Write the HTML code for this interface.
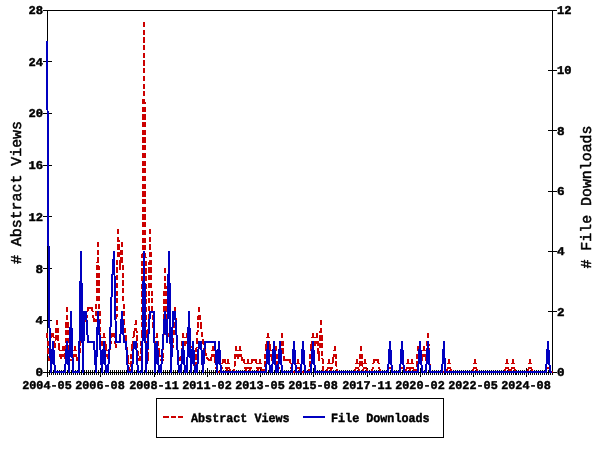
<!DOCTYPE html>
<html><head><meta charset="utf-8"><title>Abstract Views and File Downloads</title>
<style>html,body{margin:0;padding:0;background:#fff}body{width:600px;height:450px;overflow:hidden}</style></head>
<body>
<svg width="600" height="450" viewBox="0 0 600 450" style="display:block">
<rect x="0" y="0" width="600" height="450" fill="#fff"/>
<g stroke="#000" stroke-width="1" shape-rendering="crispEdges" fill="none">
<path d="M47.5 10.5H552.5V372.5H47.5Z"/>
<path d="M43 372.5H52"/>
<path d="M43 320.5H52"/>
<path d="M43 268.5H52"/>
<path d="M43 216.5H52"/>
<path d="M43 165.5H52"/>
<path d="M43 113.5H52"/>
<path d="M43 61.5H52"/>
<path d="M43 10.5H52"/>
<path d="M548 372.5H557"/>
<path d="M548 311.5H557"/>
<path d="M548 251.5H557"/>
<path d="M548 191.5H557"/>
<path d="M548 130.5H557"/>
<path d="M548 70.5H557"/>
<path d="M548 10.5H557"/>
<path d="M47.5 368V377M49.5 370V375M51.5 370V375M53.5 370V375M55.5 370V375M57.5 370V375M59.5 370V375M61.5 370V375M63.5 370V375M65.5 370V375M67.5 370V375M69.5 370V375M71.5 370V375M73.5 370V375M75.5 370V375M77.5 370V375M79.5 370V375M81.5 370V375M83.5 370V375M84.5 370V375M86.5 370V375M88.5 370V375M90.5 370V375M92.5 370V375M94.5 370V375M96.5 370V375M98.5 370V375M100.5 368V377M102.5 370V375M104.5 370V375M106.5 370V375M108.5 370V375M110.5 370V375M112.5 370V375M114.5 370V375M116.5 370V375M118.5 370V375M120.5 370V375M122.5 370V375M124.5 370V375M126.5 370V375M128.5 370V375M130.5 370V375M132.5 370V375M134.5 370V375M136.5 370V375M138.5 370V375M140.5 370V375M142.5 370V375M144.5 370V375M146.5 370V375M148.5 370V375M150.5 370V375M152.5 370V375M154.5 368V377M155.5 370V375M157.5 370V375M159.5 370V375M161.5 370V375M163.5 370V375M165.5 370V375M167.5 370V375M169.5 370V375M171.5 370V375M173.5 370V375M175.5 370V375M177.5 370V375M179.5 370V375M181.5 370V375M183.5 370V375M185.5 370V375M187.5 370V375M189.5 370V375M191.5 370V375M193.5 370V375M195.5 370V375M197.5 370V375M199.5 370V375M201.5 370V375M203.5 370V375M205.5 370V375M207.5 368V377M209.5 370V375M211.5 370V375M213.5 370V375M215.5 370V375M217.5 370V375M219.5 370V375M221.5 370V375M223.5 370V375M225.5 370V375M227.5 370V375M228.5 370V375M230.5 370V375M232.5 370V375M234.5 370V375M236.5 370V375M238.5 370V375M240.5 370V375M242.5 370V375M244.5 370V375M246.5 370V375M248.5 370V375M250.5 370V375M252.5 370V375M254.5 370V375M256.5 370V375M258.5 370V375M260.5 368V377M262.5 370V375M264.5 370V375M266.5 370V375M268.5 370V375M270.5 370V375M272.5 370V375M274.5 370V375M276.5 370V375M278.5 370V375M280.5 370V375M282.5 370V375M284.5 370V375M286.5 370V375M288.5 370V375M290.5 370V375M292.5 370V375M294.5 370V375M296.5 370V375M298.5 370V375M300.5 370V375M301.5 370V375M303.5 370V375M305.5 370V375M307.5 370V375M309.5 370V375M311.5 370V375M313.5 368V377M315.5 370V375M317.5 370V375M319.5 370V375M321.5 370V375M323.5 370V375M325.5 370V375M327.5 370V375M329.5 370V375M331.5 370V375M333.5 370V375M335.5 370V375M337.5 370V375M339.5 370V375M341.5 370V375M343.5 370V375M345.5 370V375M347.5 370V375M349.5 370V375M351.5 370V375M353.5 370V375M355.5 370V375M357.5 370V375M359.5 370V375M361.5 370V375M363.5 370V375M365.5 370V375M367.5 368V377M369.5 370V375M371.5 370V375M372.5 370V375M374.5 370V375M376.5 370V375M378.5 370V375M380.5 370V375M382.5 370V375M384.5 370V375M386.5 370V375M388.5 370V375M390.5 370V375M392.5 370V375M394.5 370V375M396.5 370V375M398.5 370V375M400.5 370V375M402.5 370V375M404.5 370V375M406.5 370V375M408.5 370V375M410.5 370V375M412.5 370V375M414.5 370V375M416.5 370V375M418.5 370V375M420.5 368V377M422.5 370V375M424.5 370V375M426.5 370V375M428.5 370V375M430.5 370V375M432.5 370V375M434.5 370V375M436.5 370V375M438.5 370V375M440.5 370V375M442.5 370V375M444.5 370V375M445.5 370V375M447.5 370V375M449.5 370V375M451.5 370V375M453.5 370V375M455.5 370V375M457.5 370V375M459.5 370V375M461.5 370V375M463.5 370V375M465.5 370V375M467.5 370V375M469.5 370V375M471.5 370V375M473.5 368V377M475.5 370V375M477.5 370V375M479.5 370V375M481.5 370V375M483.5 370V375M485.5 370V375M487.5 370V375M489.5 370V375M491.5 370V375M493.5 370V375M495.5 370V375M497.5 370V375M499.5 370V375M501.5 370V375M503.5 370V375M505.5 370V375M507.5 370V375M509.5 370V375M511.5 370V375M513.5 370V375M515.5 370V375M516.5 370V375M518.5 370V375M520.5 370V375M522.5 370V375M524.5 370V375M526.5 368V377M528.5 370V375M530.5 370V375M532.5 370V375M534.5 370V375M536.5 370V375M538.5 370V375M540.5 370V375M542.5 370V375M544.5 370V375M546.5 370V375M548.5 370V375M550.5 370V375M552.5 370V375"/>
</g>
<g fill="none" stroke-linejoin="round" shape-rendering="crispEdges">
<g stroke="#cc0000" stroke-width="2" stroke-linecap="square" stroke-dasharray="3.2 4.5"><path d="M47 334L49 360"/><path d="M51 334L49 360"/><path d="M51 334L53 334"/><path d="M53 334L55 347"/><path d="M57 321L55 347"/><path d="M57 321L59 347"/><path d="M59 347L61 360"/><path d="M63 347L61 360"/><path d="M63 347L65 360"/><path d="M67 308L65 360"/><path d="M67 308L69 360"/><path d="M69 360L71 360"/><path d="M71 360L73 360"/><path d="M75 347L73 360"/><path d="M75 347L77 360"/><path d="M77 360L79 360"/><path d="M81 334L79 360"/><path d="M81 334L83 334"/><path d="M84 321L83 334"/><path d="M84 321L86 321"/><path d="M88 308L86 321"/><path d="M88 308L90 308"/><path d="M90 308L92 308"/><path d="M92 308L94 321"/><path d="M94 321L96 321"/><path d="M98 243L96 321"/><path d="M98 243L100 334"/><path d="M100 334L102 347"/><path d="M104 334L102 347"/><path d="M104 334L106 347"/><path d="M106 347L108 360"/><path d="M110 347L108 360"/><path d="M112 334L110 347"/><path d="M112 334L114 334"/><path d="M114 334L116 347"/><path d="M118 230L116 347"/><path d="M118 230L120 269"/><path d="M122 243L120 269"/><path d="M122 243L124 321"/><path d="M124 321L126 340"/><path d="M126 340L128 360"/><path d="M128 360L130 372"/><path d="M132 347L130 372"/><path d="M134 334L132 347"/><path d="M136 321L134 334"/><path d="M136 321L138 360"/><path d="M138 360L140 360"/><path d="M142 334L140 360"/><path d="M144 23L142 334"/><path d="M144 23L146 334"/><path d="M146 334L148 360"/><path d="M150 230L148 360"/><path d="M150 230L152 308"/><path d="M152 308L154 334"/><path d="M154 334L155 347"/><path d="M157 334L155 347"/><path d="M157 334L159 353"/><path d="M159 353L161 360"/><path d="M161 360L163 360"/><path d="M165 269L163 360"/><path d="M165 269L167 334"/><path d="M167 334L169 334"/><path d="M169 334L171 347"/><path d="M171 347L173 347"/><path d="M175 308L173 347"/><path d="M175 308L177 347"/><path d="M177 347L179 360"/><path d="M179 360L181 360"/><path d="M183 334L181 360"/><path d="M183 334L185 347"/><path d="M187 334L185 347"/><path d="M187 334L189 347"/><path d="M189 347L191 347"/><path d="M191 347L193 347"/><path d="M193 347L195 372"/><path d="M197 340L195 372"/><path d="M199 308L197 340"/><path d="M199 308L201 325"/><path d="M201 325L203 341"/><path d="M203 341L205 352"/><path d="M205 352L207 358"/><path d="M207 358L209 360"/><path d="M209 360L211 360"/><path d="M213 347L211 360"/><path d="M213 347L215 360"/><path d="M215 360L217 372"/><path d="M217 372L219 372"/><path d="M219 372L221 372"/><path d="M223 360L221 372"/><path d="M223 360L225 360"/><path d="M225 360L227 372"/><path d="M228 360L227 372"/><path d="M228 360L230 372"/><path d="M230 372L232 372"/><path d="M232 372L234 372"/><path d="M236 347L234 372"/><path d="M236 347L238 360"/><path d="M240 347L238 360"/><path d="M240 347L242 360"/><path d="M242 360L244 360"/><path d="M244 360L246 372"/><path d="M248 360L246 372"/><path d="M248 360L250 372"/><path d="M252 360L250 372"/><path d="M252 360L254 360"/><path d="M254 360L256 360"/><path d="M256 360L258 372"/><path d="M260 360L258 372"/><path d="M260 360L262 372"/><path d="M262 372L264 372"/><path d="M266 347L264 372"/><path d="M268 334L266 347"/><path d="M268 334L270 347"/><path d="M270 347L272 360"/><path d="M272 360L274 360"/><path d="M276 347L274 360"/><path d="M276 347L278 372"/><path d="M280 360L278 372"/><path d="M282 334L280 360"/><path d="M282 334L284 360"/><path d="M284 360L286 360"/><path d="M286 360L288 360"/><path d="M288 360L290 360"/><path d="M290 360L292 372"/><path d="M292 372L294 372"/><path d="M294 372L296 372"/><path d="M298 360L296 372"/><path d="M298 360L300 372"/><path d="M300 372L301 372"/><path d="M301 372L303 372"/><path d="M303 372L305 372"/><path d="M305 372L307 372"/><path d="M307 372L309 372"/><path d="M311 347L309 372"/><path d="M313 334L311 347"/><path d="M313 334L315 347"/><path d="M317 334L315 347"/><path d="M317 334L319 360"/><path d="M321 321L319 360"/><path d="M321 321L323 372"/><path d="M323 372L325 372"/><path d="M325 372L327 372"/><path d="M329 360L327 372"/><path d="M329 360L331 372"/><path d="M333 360L331 372"/><path d="M335 347L333 360"/><path d="M335 347L337 372"/><path d="M337 372L339 372"/><path d="M339 372L341 372"/><path d="M341 372L343 372"/><path d="M343 372L345 372"/><path d="M345 372L347 372"/><path d="M347 372L349 372"/><path d="M349 372L351 372"/><path d="M351 372L353 372"/><path d="M353 372L355 372"/><path d="M357 360L355 372"/><path d="M357 360L359 372"/><path d="M361 347L359 372"/><path d="M361 347L363 372"/><path d="M365 360L363 372"/><path d="M365 360L367 372"/><path d="M367 372L369 372"/><path d="M369 372L371 372"/><path d="M371 372L372 372"/><path d="M374 360L372 372"/><path d="M374 360L376 360"/><path d="M376 360L378 360"/><path d="M378 360L380 372"/><path d="M380 372L382 372"/><path d="M382 372L384 372"/><path d="M384 372L386 372"/><path d="M386 372L388 372"/><path d="M390 360L388 372"/><path d="M390 360L392 372"/><path d="M392 372L394 372"/><path d="M394 372L396 372"/><path d="M396 372L398 372"/><path d="M398 372L400 372"/><path d="M402 360L400 372"/><path d="M402 360L404 372"/><path d="M404 372L406 372"/><path d="M408 360L406 372"/><path d="M408 360L410 372"/><path d="M412 360L410 372"/><path d="M412 360L414 372"/><path d="M414 372L416 372"/><path d="M418 347L416 372"/><path d="M418 347L420 360"/><path d="M420 360L422 360"/><path d="M424 347L422 360"/><path d="M424 347L426 360"/><path d="M428 334L426 360"/><path d="M428 334L430 372"/><path d="M430 372L432 372"/><path d="M432 372L434 372"/><path d="M434 372L436 372"/><path d="M436 372L438 372"/><path d="M438 372L440 372"/><path d="M440 372L442 372"/><path d="M442 372L444 372"/><path d="M444 372L445 372"/><path d="M445 372L447 372"/><path d="M449 360L447 372"/><path d="M449 360L451 372"/><path d="M451 372L453 372"/><path d="M453 372L455 372"/><path d="M455 372L457 372"/><path d="M457 372L459 372"/><path d="M459 372L461 372"/><path d="M461 372L463 372"/><path d="M463 372L465 372"/><path d="M465 372L467 372"/><path d="M467 372L469 372"/><path d="M469 372L471 372"/><path d="M471 372L473 372"/><path d="M475 360L473 372"/><path d="M475 360L477 372"/><path d="M477 372L479 372"/><path d="M479 372L481 372"/><path d="M481 372L483 372"/><path d="M483 372L485 372"/><path d="M485 372L487 372"/><path d="M487 372L489 372"/><path d="M489 372L491 372"/><path d="M491 372L493 372"/><path d="M493 372L495 372"/><path d="M495 372L497 372"/><path d="M497 372L499 372"/><path d="M499 372L501 372"/><path d="M501 372L503 372"/><path d="M503 372L505 372"/><path d="M507 360L505 372"/><path d="M507 360L509 372"/><path d="M509 372L511 372"/><path d="M513 360L511 372"/><path d="M513 360L515 372"/><path d="M515 372L516 372"/><path d="M516 372L518 372"/><path d="M518 372L520 372"/><path d="M520 372L522 372"/><path d="M522 372L524 372"/><path d="M524 372L526 372"/><path d="M526 372L528 372"/><path d="M530 360L528 372"/><path d="M530 360L532 372"/><path d="M532 372L534 372"/><path d="M534 372L536 372"/><path d="M536 372L538 372"/><path d="M538 372L540 372"/><path d="M540 372L542 372"/><path d="M542 372L544 372"/><path d="M544 372L546 372"/><path d="M548 360L546 372"/><path d="M548 360L550 372"/><path d="M550 372L552 372"/></g>
<polyline points="47,41 49,312 51,372 53,342 55,372 57,372 59,372 61,372 63,372 65,372 67,342 69,372 71,312 73,372 75,372 77,372 79,372 81,252 83,372 84,312 86,312 88,342 90,342 92,342 94,342 96,372 98,312 100,342 102,372 104,342 106,372 108,372 110,342 112,282 114,252 116,342 118,342 120,342 122,312 124,342 126,342 128,372 130,372 132,372 134,342 136,342 138,372 140,372 142,372 144,252 146,372 148,342 150,312 152,312 154,312 155,372 157,342 159,372 161,372 163,342 165,312 167,342 169,252 171,372 173,312 175,312 177,342 179,372 181,372 183,342 185,372 187,372 189,312 191,372 193,342 195,372 197,372 199,342 201,342 203,372 205,342 207,342 209,342 211,342 213,342 215,342 217,372 219,342 221,372 223,372 225,372 227,372 228,372 230,372 232,372 234,372 236,372 238,372 240,372 242,372 244,372 246,372 248,372 250,372 252,372 254,372 256,372 258,372 260,372 262,372 264,372 266,372 268,342 270,372 272,372 274,342 276,372 278,372 280,342 282,372 284,372 286,372 288,372 290,372 292,372 294,342 296,372 298,372 300,372 301,372 303,342 305,372 307,372 309,372 311,372 313,342 315,372 317,372 319,372 321,372 323,372 325,372 327,372 329,372 331,372 333,372 335,372 337,372 339,372 341,372 343,372 345,372 347,372 349,372 351,372 353,372 355,372 357,372 359,372 361,372 363,372 365,372 367,372 369,372 371,372 372,372 374,372 376,372 378,372 380,372 382,372 384,372 386,372 388,372 390,342 392,372 394,372 396,372 398,372 400,372 402,342 404,372 406,372 408,372 410,372 412,372 414,372 416,372 418,372 420,342 422,372 424,372 426,372 428,342 430,372 432,372 434,372 436,372 438,372 440,372 442,372 444,342 445,372 447,372 449,372 451,372 453,372 455,372 457,372 459,372 461,372 463,372 465,372 467,372 469,372 471,372 473,372 475,372 477,372 479,372 481,372 483,372 485,372 487,372 489,372 491,372 493,372 495,372 497,372 499,372 501,372 503,372 505,372 507,372 509,372 511,372 513,372 515,372 516,372 518,372 520,372 522,372 524,372 526,372 528,372 530,372 532,372 534,372 536,372 538,372 540,372 542,372 544,372 546,372 548,342 550,372 552,372" stroke="#0000c0" stroke-width="2"/>
</g>
<g font-family="'Liberation Mono', 'DejaVu Sans Mono', monospace" font-weight="bold" fill="#000" stroke="#000" stroke-width="0.45" stroke-linejoin="round" text-rendering="geometricPrecision">
<text x="43" y="376" font-size="11.9" text-anchor="end" textLength="7.6" lengthAdjust="spacingAndGlyphs">0</text>
<text x="43" y="324" font-size="11.9" text-anchor="end" textLength="7.6" lengthAdjust="spacingAndGlyphs">4</text>
<text x="43" y="273" font-size="11.9" text-anchor="end" textLength="7.6" lengthAdjust="spacingAndGlyphs">8</text>
<text x="43" y="221" font-size="11.9" text-anchor="end" textLength="14.6" lengthAdjust="spacingAndGlyphs">12</text>
<text x="43" y="169" font-size="11.9" text-anchor="end" textLength="14.6" lengthAdjust="spacingAndGlyphs">16</text>
<text x="43" y="117" font-size="11.9" text-anchor="end" textLength="14.6" lengthAdjust="spacingAndGlyphs">20</text>
<text x="43" y="66" font-size="11.9" text-anchor="end" textLength="14.6" lengthAdjust="spacingAndGlyphs">24</text>
<text x="43" y="14" font-size="11.9" text-anchor="end" textLength="14.6" lengthAdjust="spacingAndGlyphs">28</text>
<text x="557" y="376" font-size="11.9" text-anchor="start" textLength="7.6" lengthAdjust="spacingAndGlyphs">0</text>
<text x="557" y="316" font-size="11.9" text-anchor="start" textLength="7.6" lengthAdjust="spacingAndGlyphs">2</text>
<text x="557" y="255" font-size="11.9" text-anchor="start" textLength="7.6" lengthAdjust="spacingAndGlyphs">4</text>
<text x="557" y="195" font-size="11.9" text-anchor="start" textLength="7.6" lengthAdjust="spacingAndGlyphs">6</text>
<text x="557" y="135" font-size="11.9" text-anchor="start" textLength="7.6" lengthAdjust="spacingAndGlyphs">8</text>
<text x="557" y="74" font-size="11.9" text-anchor="start" textLength="14.6" lengthAdjust="spacingAndGlyphs">10</text>
<text x="557" y="14" font-size="11.9" text-anchor="start" textLength="14.6" lengthAdjust="spacingAndGlyphs">12</text>
<text x="47" y="389" font-size="11.9" text-anchor="middle" textLength="49.6" lengthAdjust="spacingAndGlyphs">2004-05</text>
<text x="100" y="389" font-size="11.9" text-anchor="middle" textLength="49.6" lengthAdjust="spacingAndGlyphs">2006-08</text>
<text x="154" y="389" font-size="11.9" text-anchor="middle" textLength="49.6" lengthAdjust="spacingAndGlyphs">2008-11</text>
<text x="207" y="389" font-size="11.9" text-anchor="middle" textLength="49.6" lengthAdjust="spacingAndGlyphs">2011-02</text>
<text x="260" y="389" font-size="11.9" text-anchor="middle" textLength="49.6" lengthAdjust="spacingAndGlyphs">2013-05</text>
<text x="313" y="389" font-size="11.9" text-anchor="middle" textLength="49.6" lengthAdjust="spacingAndGlyphs">2015-08</text>
<text x="367" y="389" font-size="11.9" text-anchor="middle" textLength="49.6" lengthAdjust="spacingAndGlyphs">2017-11</text>
<text x="420" y="389" font-size="11.9" text-anchor="middle" textLength="49.6" lengthAdjust="spacingAndGlyphs">2020-02</text>
<text x="473" y="389" font-size="11.9" text-anchor="middle" textLength="49.6" lengthAdjust="spacingAndGlyphs">2022-05</text>
<text x="526" y="389" font-size="11.9" text-anchor="middle" textLength="49.6" lengthAdjust="spacingAndGlyphs">2024-08</text>
<text x="191" y="422" font-size="12.5" text-anchor="start" textLength="98.6" lengthAdjust="spacingAndGlyphs">Abstract Views</text>
<text x="331" y="422" font-size="12.5" text-anchor="start" textLength="98.6" lengthAdjust="spacingAndGlyphs">File Downloads</text>
<text transform="translate(21,264) rotate(-90)" font-size="15" font-weight="normal" stroke-width="0.5" textLength="143" lengthAdjust="spacingAndGlyphs"># Abstract Views</text>
<text transform="translate(591,268.5) rotate(-90)" font-size="15" font-weight="normal" stroke-width="0.5" textLength="143" lengthAdjust="spacingAndGlyphs"># File Downloads</text>
</g>
<g shape-rendering="crispEdges" fill="none">
<rect x="156.5" y="398.5" width="287" height="39" stroke="#000"/>
<path d="M163 417H183" stroke="#cc0000" stroke-width="2" stroke-dasharray="5.5 2"/>
<path d="M303 417H325" stroke="#0000c0" stroke-width="2"/>
</g>
</svg>
</body></html>
